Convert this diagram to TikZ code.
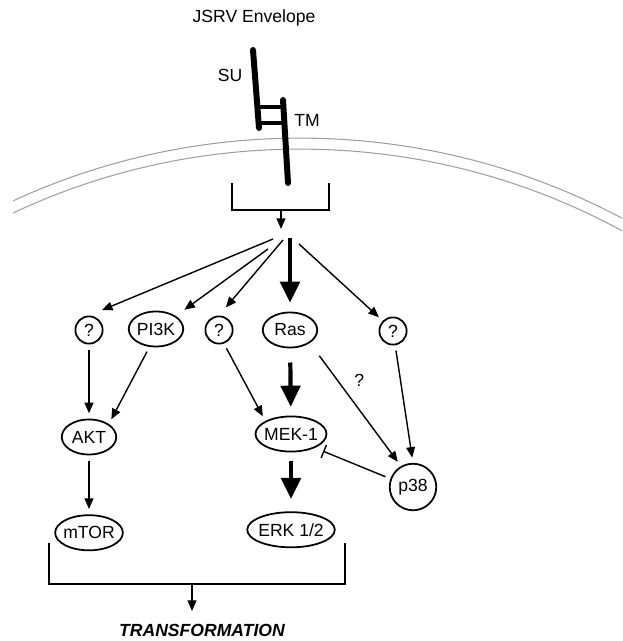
\documentclass[tikz,border=0pt]{standalone}
\usepackage{fontspec}
\setmainfont{Liberation Sans}
\usetikzlibrary{arrows.meta,positioning,shapes.geometric}

\begin{document}
\begin{tikzpicture}[
  x=0.02cm, y=-0.02cm,
  >={Triangle[length=6pt,width=5pt]}, node distance=33.5pt,
  every node/.style={font=\fontsize{10}{12}\selectfont},
  oval/.style={ellipse,draw,line width=1pt,inner xsep=-1pt,inner ysep=2.5pt,
    minimum width=31pt,minimum height=20pt},
  unk/.style={circle,draw,line width=1pt,inner sep=1pt,minimum size=15.5pt},
  sig/.style={->,line width=0.8pt,shorten <=3pt,shorten >=3pt},
  fan/.style={->,line width=0.8pt},
  bigsig/.style={-{Triangle[length=12pt,width=11pt]},line width=2.4pt,
    shorten <=5pt,shorten >=5pt},
  block/.style={-{Bar[width=8pt]},line width=0.8pt,shorten <=3pt,shorten >=5pt},
  bracket/.style={line width=0.8pt},
  env/.style={line width=3.4pt,line cap=round},
  membrane/.style={gray!75,line width=0.6pt}
]
\useasboundingbox (0,0) rectangle (622,641);

% cell membrane
\begin{scope}
  \clip (13,100) rectangle (622,240);
  \draw[membrane] (300,824) circle[radius=13.72cm];
  \draw[membrane] (300,824) circle[radius=13.5cm];
\end{scope}

% envelope protein
\node (title) at (254,18) {JSRV Envelope};
\node (su) at (230,75) {SU};
\node (tm) at (307,120) {TM};
\draw[env] (253,50) -- (259,128);
\draw[env] (283,100) -- (288,183);
\draw[line width=1.8pt] (259,107) -- (284,107) (259,123) -- (285,123);

\draw[bracket] (232,183) |- (329,210) -- (329,183);
\coordinate (top) at (281,210);
\coordinate (hub) at (281,229);
\draw[fan] (top) -- (hub);

% signalling nodes
\node[unk] (q1) at (89,330) {?};
\node[oval] (pi3k) at (156,329) {PI3K};
\node[unk] (q2) at (219,330) {?};
\node[oval] (ras) at (290,330) {Ras};
\node[unk] (q3) at (393,331) {?};
\node[oval] (akt) at (89,437) {AKT};
\node[oval] (mtor) [below=of akt] {mTOR};
\node[oval] (mek) at (291,434) {MEK-1};
\node[oval] (erk) [below=of mek] {ERK 1/2};
\node[unk,minimum size=26.5pt] (p38) at (413,487) {p38};

\coordinate (f1) at (273,239);
\coordinate (f2) at (268,249);
\coordinate (f3) at (283,240);
\coordinate (f4) at (290,238);
\coordinate (f5) at (299,244);
\draw[fan,shorten >=8pt] (f1) -- (q1.north);
\draw[fan,shorten >=6pt] (f2) -- (pi3k.north east);
\draw[fan,shorten >=6pt] (f3) -- (q2.north);
\draw[bigsig,shorten <=0pt] (f4) -- (ras.north);
\draw[fan,shorten >=3pt] (f5) -- (q3.north west);

\draw[sig] (q1) -- (akt);
\draw[sig] (pi3k.250) -- (akt.north east);
\draw[sig] (q2.290) -- (mek.north west);
\draw[bigsig,shorten <=8pt] (ras) -- (mek);
\draw[bigsig,shorten >=7pt] (mek) -- (erk);
\draw[sig] (akt) -- (mtor);
\draw[sig,shorten <=9pt] (ras.south east) -- node[pos=0.3,right=6pt] {?} (p38.120);
\draw[sig] (q3) -- (p38.north);
\draw[block] (p38.160) -- (mek.-30);

% outcome
\draw[bracket] (49,543) |- (345,584) -- (345,543);
\coordinate (bot) at (192,584);
\coordinate (end) at (192,611);
\draw[fan] (bot) -- (end);
\node[font=\fontsize{10}{12}\selectfont\bfseries\itshape] (trans) at (202,630) {TRANSFORMATION};
\end{tikzpicture}
\end{document}
